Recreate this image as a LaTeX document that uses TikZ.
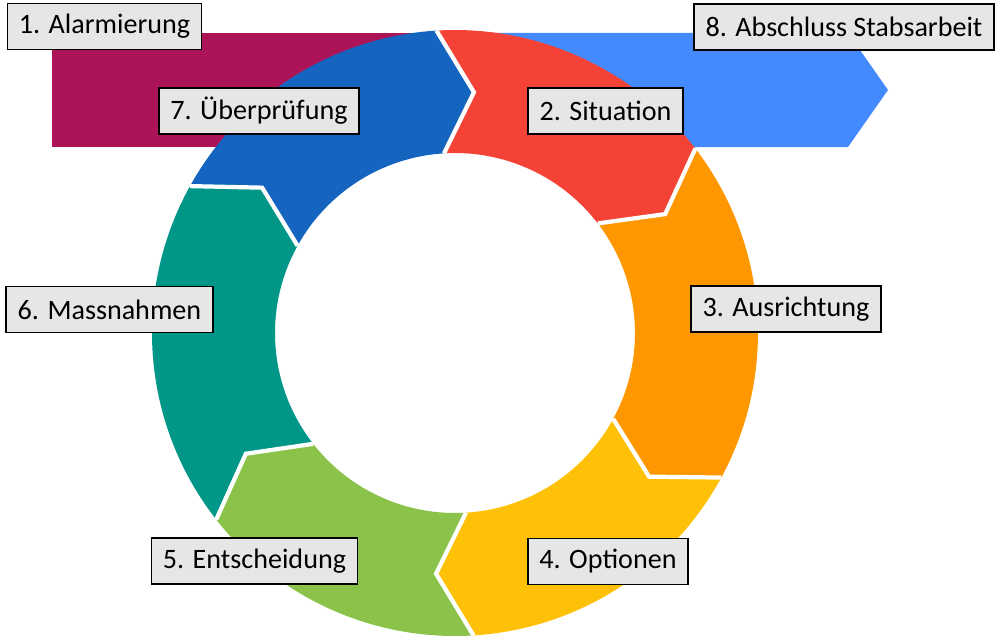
\documentclass[tikz,border=0pt]{standalone}
\usepackage{fontspec}
\setmainfont{Carlito}
\definecolor{alarmred}{HTML}{AD1457}
\definecolor{endblue}{HTML}{448AFF}
\definecolor{pruefblue}{HTML}{1565C0}
\definecolor{sitred}{HTML}{F44336}
\definecolor{ausorange}{HTML}{FF9800}
\definecolor{optyellow}{HTML}{FFC107}
\definecolor{entgreen}{HTML}{8BC34A}
\definecolor{masteal}{HTML}{009688}
\definecolor{boxgray}{HTML}{E6E6E6}
\begin{document}
\begin{tikzpicture}[
    lbl/.style={draw=black, line width=0.85pt, fill=boxgray, inner xsep=0.23cm,
      minimum height=0.92cm, font=\fontsize{16}{19}\selectfont},
    gap/.style={white, line width=2.4pt}]
  \useasboundingbox (-9.1,-6.18) rectangle (10.9,6.66);
  % start and end bars
  \fill[alarmred] (-8.06,6.0) rectangle (0,3.72);
  \fill[endblue] (0,6.0) -- (7.86,6.0) -- (8.66,4.86) -- (7.86,3.72) -- (0,3.72) -- cycle;
  % ring
  \fill[pruefblue] (151:6.06) arc[start angle=151, end angle=93.5, radius=6.06]
    -- (85.5:4.83) -- (93.5:3.6) arc[start angle=93.5, end angle=151, radius=3.6]
    -- (143:4.83) -- cycle;
  \fill[sitred] (93.5:6.06) arc[start angle=93.5, end angle=37.5, radius=6.06]
    -- (29.5:4.83) -- (37.5:3.6) arc[start angle=37.5, end angle=93.5, radius=3.6]
    -- (85.5:4.83) -- cycle;
  \fill[ausorange] (37.5:6.06) arc[start angle=37.5, end angle=-28.5, radius=6.06]
    -- (-36.5:4.83) -- (-28.5:3.6) arc[start angle=-28.5, end angle=37.5, radius=3.6]
    -- (29.5:4.83) -- cycle;
  \fill[optyellow] (-28.5:6.06) arc[start angle=-28.5, end angle=-86.5, radius=6.06]
    -- (-94.5:4.83) -- (-86.5:3.6) arc[start angle=-86.5, end angle=-28.5, radius=3.6]
    -- (-36.5:4.83) -- cycle;
  \fill[entgreen] (-86.5:6.06) arc[start angle=-86.5, end angle=-142, radius=6.06]
    -- (-150:4.83) -- (-142:3.6) arc[start angle=-142, end angle=-86.5, radius=3.6]
    -- (-94.5:4.83) -- cycle;
  \fill[masteal] (218:6.06) arc[start angle=218, end angle=151, radius=6.06]
    -- (143:4.83) -- (151:3.6) arc[start angle=151, end angle=218, radius=3.6]
    -- (210:4.83) -- cycle;
  % white joints
  \begin{scope}[gap]
    \draw (151:6.06) -- (143:4.83) -- (151:3.6);
    \draw (93.5:6.06) -- (85.5:4.83) -- (93.5:3.6);
    \draw (37.5:6.06) -- (29.5:4.83) -- (37.5:3.6);
    \draw (-28.5:6.06) -- (-36.5:4.83) -- (-28.5:3.6);
    \draw (-86.5:6.06) -- (-94.5:4.83) -- (-86.5:3.6);
    \draw (-142:6.06) -- (-150:4.83) -- (-142:3.6);
  \end{scope}
  % labels
  \node[lbl] (alarm) at (-7.01,6.13) {1. Alarmierung};
  \node[lbl] (situation) at (3.01,4.44) {2. Situation};
  \node[lbl] (ausrichtung) at (6.62,0.48) {3. Ausrichtung};
  \node[lbl] (optionen) at (3.06,-4.57) {4. Optionen};
  \node[lbl] (entscheidung) at (-4.01,-4.56) {5. Entscheidung};
  \node[lbl] (massnahmen) at (-6.91,0.47) {6. Massnahmen};
  \node[lbl] (pruefung) at (-3.92,4.44) {7. Überprüfung};
  \node[lbl] (abschluss) at (7.78,6.12) {8. Abschluss Stabsarbeit};
\end{tikzpicture}
\end{document}
